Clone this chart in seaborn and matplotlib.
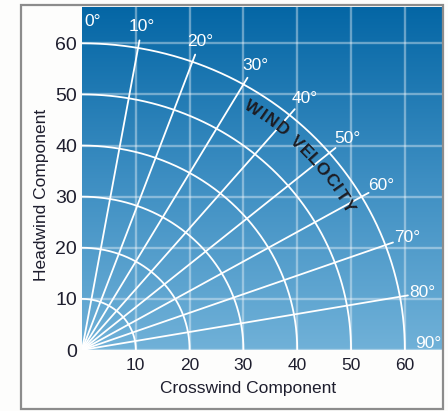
import numpy as np
import pandas as pd
import matplotlib
matplotlib.use("Agg")
import matplotlib.pyplot as plt
import seaborn as sns
from matplotlib.colors import LinearSegmentedColormap
from matplotlib.patches import Rectangle

# ---- data ----
speeds = [10, 20, 30, 40, 50, 60]                       # wind velocity arcs
angles = [0, 10, 20, 30, 40, 50, 60, 70, 80, 90]        # wind angle radials
x_ticks = [10, 20, 30, 40, 50, 60]
y_ticks = [0, 10, 20, 30, 40, 50, 60]
arc_label = "WIND VELOCITY"
x_label = "Crosswind Component"
y_label = "Headwind Component"

sns.set_theme(style="white")
plt.rcParams["font.family"] = ["Liberation Sans", "DejaVu Sans"]

W, H = 448, 411
fig = plt.figure(figsize=(W / 100, H / 100), dpi=100)
fig.patch.set_facecolor("#fdfdfc")
ax = fig.add_axes([82 / W, 61 / H, 360 / W, 343 / H])
XMAX, YMAX = 66.9, 67.1

# gradient background
cmap = LinearSegmentedColormap.from_list("bg", ["#70b1d8", "#3d8ec2", "#0466a5"])
ax.imshow(np.linspace(0, 1, 256).reshape(-1, 1), extent=[0, XMAX, 0, YMAX],
          origin="lower", cmap=cmap, aspect="auto", zorder=0)

# arcs
th = np.linspace(0, 90, 181)
arcs = pd.DataFrame([
    {"r": r, "x": r * np.sin(np.radians(t)), "y": r * np.cos(np.radians(t)), "t": t}
    for r in speeds for t in th
])
sns.lineplot(data=arcs, x="x", y="y", units="r", estimator=None, sort=False,
             color="white", lw=1.3, ax=ax, legend=False, zorder=3)

# radials
R_LINE = 61.5
rad = pd.DataFrame([
    {"a": a, "x": rr * np.sin(np.radians(a)), "y": rr * np.cos(np.radians(a))}
    for a in angles[1:-1] for rr in (0, R_LINE)
])
sns.lineplot(data=rad, x="x", y="y", units="a", estimator=None, sort=False,
             color="white", lw=1.3, ax=ax, legend=False, zorder=3)

# angle labels
R_LAB = 64.3
for a in angles:
    x = R_LAB * np.sin(np.radians(a))
    y = R_LAB * np.cos(np.radians(a))
    ha, va = "center", "center"
    if a == 0:
        x, ha = 0.4, "left"
    if a == 90:
        y = 1.3
    ax.text(x, y, f"{a}°", color="white", fontsize=12.5, ha=ha, va=va,
            zorder=5, clip_on=True)

ax.set_xlim(0, XMAX)
ax.set_ylim(0, YMAX)

# curved "WIND VELOCITY" text
fig.canvas.draw()
sx = ax.bbox.width / XMAX
sy = ax.bbox.height / YMAX
widths = {"W": .944, "I": .278, "N": .722, "D": .722, " ": .30, "V": .667,
          "E": .64, "L": .52, "O": .778, "C": .722, "T": .611, "Y": .667}
track = 0.08
cents, pos = [], 0.0
for ch in arc_label:
    w = widths.get(ch, .6) + track
    cents.append(pos + w / 2)
    pos += w
t0, t1, R_TXT = 33.8, 60.4, 56.8
for ch, c in zip(arc_label, cents):
    t = t0 + (c - cents[0]) / (cents[-1] - cents[0]) * (t1 - t0)
    tr = np.radians(t)
    rot = np.degrees(np.arctan2(-sy * np.sin(tr), sx * np.cos(tr)))
    ax.text(R_TXT * np.sin(tr), R_TXT * np.cos(tr), ch, rotation=rot,
            rotation_mode="anchor", ha="center", va="center",
            fontsize=12.5, fontweight="bold", color="#1c1c22", zorder=6)

# axes styling
ax.set_xticks(x_ticks)
ax.set_yticks(y_ticks)
ax.grid(True, color="white", alpha=0.38, lw=1.7)
ax.set_axisbelow(True)
for s in ax.spines.values():
    s.set_visible(False)
ax.tick_params(axis="x", length=0, pad=5.5, labelsize=12.5, labelcolor="#1e1e2e")
ax.tick_params(axis="y", length=0, pad=3.5, labelsize=14, labelcolor="#1e1e2e")
ax.set_xlabel(x_label, fontsize=12.5, color="#1e1e2e")
ax.set_ylabel(y_label, fontsize=12.5, color="#1e1e2e")
ax.xaxis.set_label_coords((248 - 82) / 360, (350 - 381) / 343)
ax.yaxis.set_label_coords((49 - 82) / 360, (350 - 195) / 343)

# outer frame
fig.add_artist(Rectangle((21 / W, 2 / H), (443 - 21) / W, (406 - 2) / H,
                         transform=fig.transFigure, fill=False,
                         edgecolor="#8c8c8c", lw=1.6, zorder=10))

fig.savefig("out.png", dpi=100)
